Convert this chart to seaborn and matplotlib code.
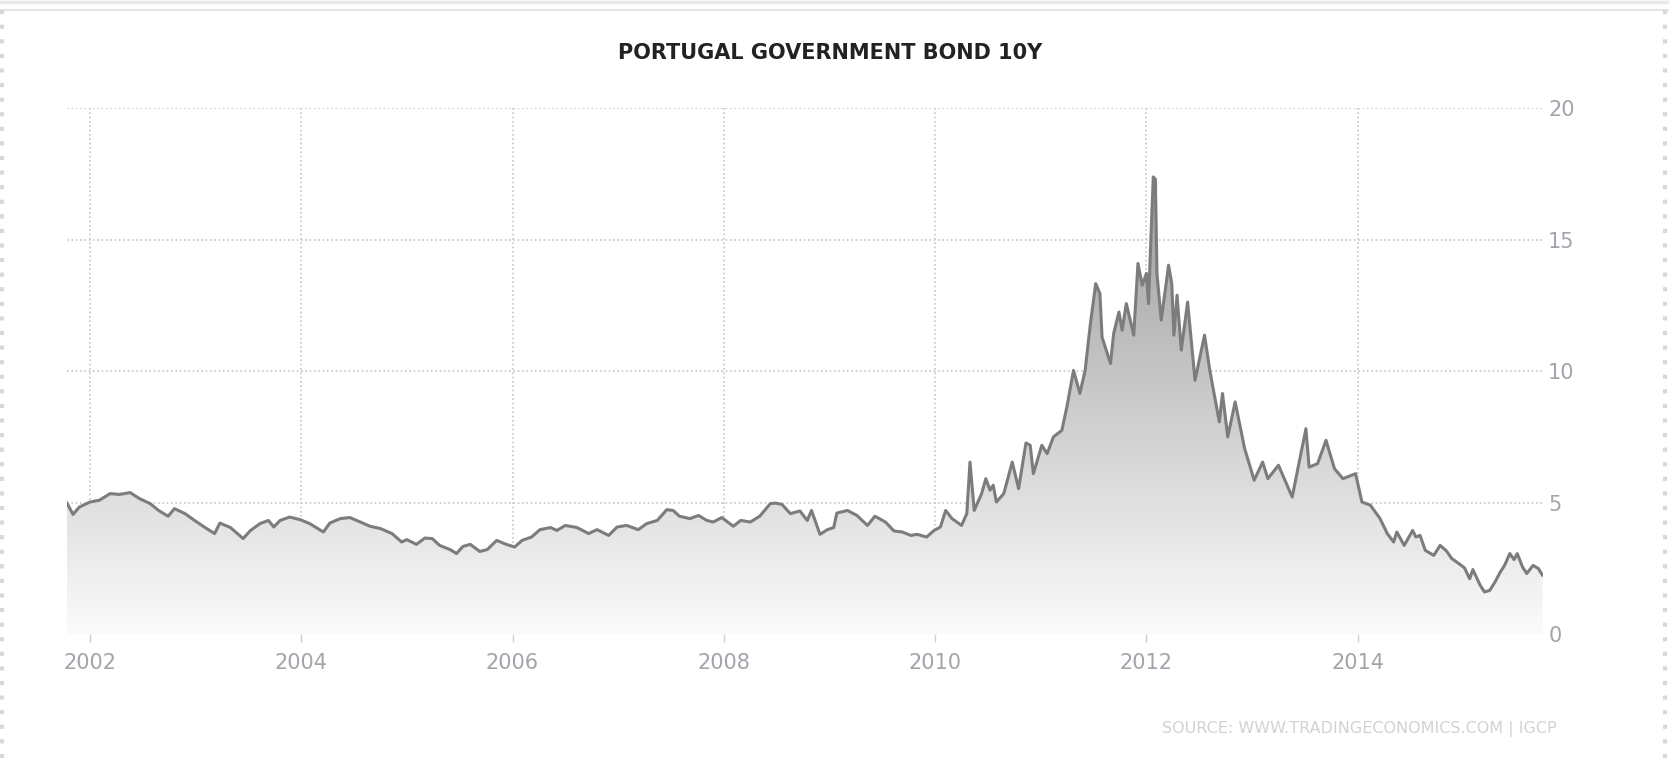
import seaborn as sns
import matplotlib.pyplot as plt
import numpy as np
import pandas as pd
from matplotlib.lines import Line2D
from matplotlib.colors import LinearSegmentedColormap

# decimal year of each reading and the 10y yield (%)
dates = [
    2001.78, 2001.84, 2001.90, 2002.00, 2002.09, 2002.19, 2002.28, 2002.38, 2002.47, 2002.57,
    2002.65, 2002.74, 2002.80, 2002.90, 2002.99, 2003.09, 2003.18, 2003.23, 2003.33, 2003.45,
    2003.52, 2003.61, 2003.69, 2003.74, 2003.80, 2003.89, 2003.99, 2004.08, 2004.21, 2004.27,
    2004.37, 2004.46, 2004.56, 2004.65, 2004.75, 2004.86, 2004.95, 2005.00, 2005.09, 2005.17,
    2005.24, 2005.31, 2005.41, 2005.47, 2005.53, 2005.60, 2005.69, 2005.76, 2005.85, 2005.94,
    2006.02, 2006.09, 2006.18, 2006.26, 2006.36, 2006.42, 2006.50, 2006.61, 2006.72, 2006.80,
    2006.91, 2006.99, 2007.08, 2007.19, 2007.27, 2007.37, 2007.46, 2007.52, 2007.58, 2007.68,
    2007.76, 2007.84, 2007.90, 2007.98, 2008.09, 2008.16, 2008.25, 2008.34, 2008.44, 2008.49,
    2008.55, 2008.63, 2008.72, 2008.79, 2008.83, 2008.91, 2008.98, 2009.04, 2009.07, 2009.17,
    2009.26, 2009.36, 2009.43, 2009.53, 2009.61, 2009.69, 2009.77, 2009.83, 2009.92, 2009.99,
    2010.05, 2010.10, 2010.16, 2010.25, 2010.30, 2010.33, 2010.37, 2010.44, 2010.48, 2010.52,
    2010.55, 2010.58, 2010.65, 2010.73, 2010.79, 2010.86, 2010.90, 2010.93, 2011.01, 2011.06,
    2011.12, 2011.20, 2011.25, 2011.31, 2011.37, 2011.42, 2011.47, 2011.52, 2011.56, 2011.58,
    2011.66, 2011.69, 2011.74, 2011.77, 2011.81, 2011.88, 2011.92, 2011.96, 2012.00, 2012.02,
    2012.04, 2012.065, 2012.085, 2012.10, 2012.14, 2012.21, 2012.24, 2012.26, 2012.29, 2012.33,
    2012.39, 2012.46, 2012.55, 2012.60, 2012.69, 2012.72, 2012.77, 2012.84, 2012.93, 2013.02,
    2013.10, 2013.15, 2013.25, 2013.38, 2013.44, 2013.51, 2013.54, 2013.62, 2013.70, 2013.78,
    2013.86, 2013.98, 2014.04, 2014.12, 2014.21, 2014.28, 2014.34, 2014.37, 2014.44, 2014.52,
    2014.55, 2014.59, 2014.64, 2014.72, 2014.78, 2014.84, 2014.89, 2014.95, 2015.01, 2015.06,
    2015.09, 2015.16, 2015.20, 2015.25, 2015.30, 2015.35, 2015.39, 2015.44, 2015.48, 2015.51,
    2015.56, 2015.60, 2015.66, 2015.71, 2015.75,
]
yields = [
    5.00, 4.55, 4.83, 5.02, 5.09, 5.34, 5.31, 5.38, 5.15, 4.96,
    4.70, 4.48, 4.77, 4.58, 4.32, 4.05, 3.82, 4.22, 4.05, 3.63,
    3.94, 4.20, 4.32, 4.07, 4.32, 4.45, 4.35, 4.20, 3.88, 4.22,
    4.39, 4.43, 4.26, 4.10, 4.01, 3.82, 3.50, 3.59, 3.41, 3.65,
    3.63, 3.37, 3.21, 3.06, 3.33, 3.41, 3.14, 3.21, 3.56, 3.41,
    3.31, 3.56, 3.69, 3.97, 4.05, 3.94, 4.13, 4.05, 3.82, 3.97,
    3.75, 4.07, 4.13, 3.97, 4.20, 4.32, 4.73, 4.70, 4.48, 4.39,
    4.51, 4.32, 4.26, 4.43, 4.10, 4.32, 4.26, 4.48, 4.96, 4.98,
    4.93, 4.58, 4.68, 4.32, 4.70, 3.79, 3.97, 4.05, 4.60, 4.70,
    4.51, 4.13, 4.48, 4.26, 3.92, 3.88, 3.75, 3.79, 3.69, 3.94,
    4.07, 4.70, 4.39, 4.13, 4.58, 6.54, 4.70, 5.34, 5.91, 5.47,
    5.66, 5.02, 5.34, 6.54, 5.53, 7.27, 7.18, 6.10, 7.18, 6.86,
    7.50, 7.75, 8.70, 10.03, 9.15, 10.03, 11.81, 13.33, 12.95, 11.30,
    10.29, 11.43, 12.25, 11.56, 12.57, 11.37, 14.10, 13.27, 13.72, 12.57,
    14.79, 17.39, 17.30, 13.70, 11.94, 14.03, 13.33, 11.37, 12.89, 10.80,
    12.63, 9.65, 11.37, 10.03, 8.07, 9.15, 7.50, 8.83, 7.05, 5.85,
    6.54, 5.91, 6.42, 5.21, 6.42, 7.81, 6.35, 6.48, 7.37, 6.29,
    5.91, 6.10, 5.02, 4.90, 4.40, 3.82, 3.50, 3.88, 3.37, 3.94,
    3.69, 3.75, 3.18, 2.99, 3.37, 3.16, 2.87, 2.70, 2.52, 2.10,
    2.45, 1.85, 1.60, 1.66, 1.98, 2.36, 2.61, 3.06, 2.83, 3.06,
    2.55, 2.30, 2.61, 2.49, 2.23,
]
year_ticks = [2002, 2004, 2006, 2008, 2010, 2012, 2014]
value_ticks = [0, 5, 10, 15, 20]

df = pd.DataFrame({"date": dates, "yield": yields})

sns.set_theme(style="white")
plt.rcParams["font.family"] = ["DejaVu Sans"]

fig = plt.figure(figsize=(16.69, 7.58), dpi=100)
ax = fig.add_axes([0.03996, 0.1636, 0.8843, 0.6935])

xmin, xmax = dates[0], dates[-1]

# gradient fill under the line, clipped to the area polygon
poly = ax.fill_between(df["date"], df["yield"], 0, color="none", lw=0)
grad_cmap = LinearSegmentedColormap.from_list("g", ["#fbfbfb", "#8e8e8e"])
grad = np.linspace(0, 1, 256).reshape(-1, 1)
im = ax.imshow(grad, cmap=grad_cmap, aspect="auto", origin="lower",
               extent=[xmin, xmax, 0, 20], zorder=1)
im.set_clip_path(poly.get_paths()[0], transform=ax.transData)

sns.lineplot(data=df, x="date", y="yield", color="#7c7c7c", lw=2.2, ax=ax, zorder=3)

ax.set_xlim(xmin, xmax)
ax.set_ylim(0, 20)
ax.set_xticks(year_ticks)
ax.set_xticklabels([str(t) for t in year_ticks])
ax.set_yticks(value_ticks)
ax.yaxis.tick_right()
ax.grid(True, color="#c6c6c6", linestyle=(0, (1, 1.6)), lw=1.2, zorder=0)
ax.set_axisbelow(True)
for s in ax.spines.values():
    s.set_visible(False)
ax.tick_params(axis="x", bottom=True, length=6, width=1, color="#cfcfcf",
               labelsize=15, labelcolor="#a3a3ab", pad=8)
ax.tick_params(axis="y", right=True, left=False, length=0,
               labelsize=15, labelcolor="#a3a3ab", pad=4)
ax.set_xlabel("")
ax.set_ylabel("")

fig.text(830 / 1669, 1 - 53 / 758, "PORTUGAL GOVERNMENT BOND 10Y", ha="center", va="center",
         fontsize=15, fontweight="bold", color="#222222")
fig.text(1557 / 1669, 1 - 729 / 758, "SOURCE: WWW.TRADINGECONOMICS.COM | IGCP", ha="right",
         va="center", fontsize=11.5, color="#d2d2d2")

# page frame bits around the chart
fig.add_artist(Line2D([0, 1], [1 - 10 / 758] * 2, color="#e4e4e4", lw=1.5))
fig.add_artist(Line2D([0, 1], [1 - 1.5 / 758] * 2, color="#e8e8e8", lw=2.5))
fig.add_artist(Line2D([1.5 / 1669] * 2, [0, 1 - 10 / 758], color="#d8d8d8", lw=3,
                      linestyle=(0, (1, 2.5))))
fig.add_artist(Line2D([1 - 4 / 1669] * 2, [0, 1 - 10 / 758], color="#d8d8d8", lw=3,
                      linestyle=(0, (1, 2.5))))

fig.savefig("out.png", dpi=100, facecolor="white")
